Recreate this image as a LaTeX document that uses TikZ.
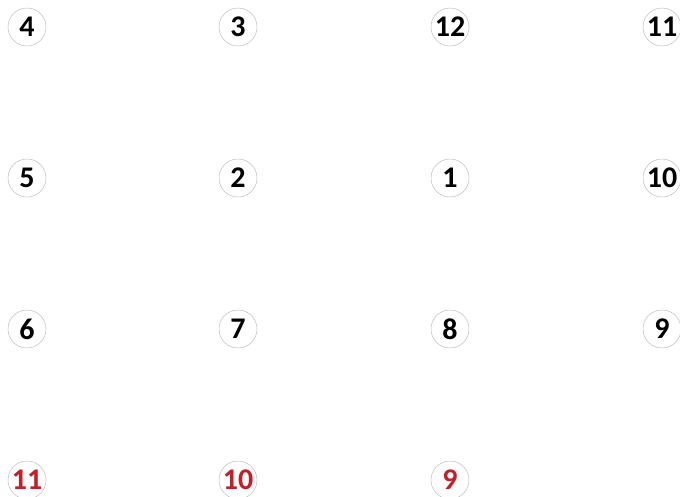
\documentclass[tikz,border=0pt]{standalone}
\usepackage{fontspec}
\setmainfont{Carlito}
\definecolor{ringgray}{RGB}{190,190,190}
\definecolor{numred}{RGB}{200,28,38}
\tikzset{
  num/.style={circle,draw=ringgray,line width=0.5pt,minimum size=38pt,inner sep=0pt,
    font=\fontsize{30}{30}\selectfont\bfseries,text=black},
  rednum/.style={num,text=numred}
}
\begin{document}
\begin{tikzpicture}[x=1pt,y=-1pt]
\useasboundingbox (0,0) rectangle (680,496);
\node[num] (n4) at (27,27) {4};
\node[num] (n3) at (238,27) {3};
\node[num] (n12) at (450,27) {12};
\node[num] (n11) at (662,27) {11};
\node[num] (n5) at (27,178) {5};
\node[num] (n2) at (238,178) {2};
\node[num] (n1) at (450,178) {1};
\node[num] (n10) at (662,178) {10};
\node[num] (n6) at (27,329) {6};
\node[num] (n7) at (238,329) {7};
\node[num] (n8) at (450,329) {8};
\node[num] (n9) at (662,329) {9};
\node[rednum] (r11) at (27,480) {11};
\node[rednum] (r10) at (238,480) {10};
\node[rednum] (r9) at (450,480) {9};
\end{tikzpicture}
\end{document}
